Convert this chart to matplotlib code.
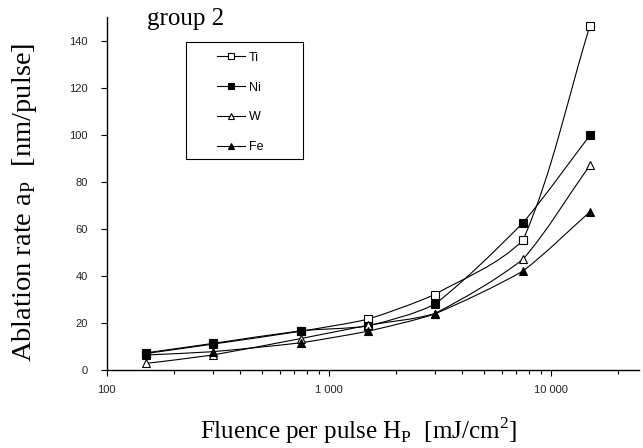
import numpy as np
import matplotlib.pyplot as plt
from matplotlib.path import Path
from matplotlib.patches import PathPatch, Rectangle
from matplotlib.lines import Line2D
from matplotlib.ticker import FixedLocator, LogLocator, NullFormatter

plt.rcParams['mathtext.fontset'] = 'custom'
plt.rcParams['mathtext.rm'] = 'Liberation Serif'

# fluence per pulse [mJ/cm2]
fluence = [150, 300, 750, 1500, 3000, 7500, 15000]

# ablation rate [nm/pulse]
ti = [7.0, 11.0, 16.5, 21.6, 32.1, 55.3, 146.2]
ni = [7.3, 11.3, 16.7, 18.7, 27.9, 62.6, 99.7]
w = [2.8, 6.4, 13.4, 19.0, 24.0, 47.1, 87.0]
fe = [6.4, 7.8, 11.6, 16.5, 23.8, 42.1, 67.2]

series = [
    ("Ti", ti, "s", "white"),
    ("Ni", ni, "s", "black"),
    ("W", w, "^", "white"),
    ("Fe", fe, "^", "black"),
]

xtick_vals = [100, 1000, 10000]
xtick_labels = ["100", "1 000", "10 000"]
ytick_vals = [0, 20, 40, 60, 80, 100, 120, 140]


def unit(v):
    return v / np.hypot(*v)


def smooth_path(ax, xs, ys):
    # each segment is a bezier; end tangents half way between the
    # neighbour direction and the segment's own chord (old plotting program look)
    P = ax.transData.transform(np.column_stack([xs, ys]))
    n = len(P)
    verts = [P[0]]
    codes = [Path.MOVETO]
    for i in range(n - 1):
        p0 = P[max(i - 1, 0)]
        p1 = P[i]
        p2 = P[i + 1]
        p3 = P[min(i + 2, n - 1)]
        chord = unit(p2 - p1)
        t1 = unit(unit(p2 - p0) + chord)
        t2 = unit(unit(p3 - p1) + chord)
        d = np.hypot(*(p2 - p1)) / 3
        verts += [p1 + t1 * d, p2 - t2 * d, p2]
        codes += [Path.CURVE4] * 3
    verts = ax.transData.inverted().transform(np.array(verts))
    return Path(verts, codes)


fig = plt.figure(figsize=(6.43, 4.48), dpi=100)
ax = fig.add_axes([0.166, 0.174, 0.828, 0.788])

ax.set_xscale("log")
ax.set_xlim(100, 25000)
ax.set_ylim(0, 150)

for name, vals, mk, fc in series:
    ax.add_patch(PathPatch(smooth_path(ax, fluence, vals), fill=False,
                           edgecolor="black", lw=0.8, zorder=2))
    ax.plot(fluence, vals, linestyle="none", marker=mk, markersize=6 if mk == "^" else 5.5,
            markerfacecolor=fc, markeredgecolor="black", markeredgewidth=0.8, zorder=3)

ax.xaxis.set_major_locator(FixedLocator(xtick_vals))
ax.set_xticklabels(xtick_labels)
ax.xaxis.set_minor_locator(LogLocator(base=10, subs=np.arange(2, 10)))
ax.xaxis.set_minor_formatter(NullFormatter())
ax.set_yticks(ytick_vals)

for s in ["top", "right"]:
    ax.spines[s].set_visible(False)
for s in ["left", "bottom"]:
    ax.spines[s].set_linewidth(1.0)

ax.tick_params(axis="both", which="major", direction="out", length=4.5, width=0.8,
               labelsize=8, labelcolor="#222222")
ax.tick_params(axis="y", which="major", pad=9)
ax.tick_params(axis="x", which="major", pad=6)
ax.tick_params(axis="x", which="minor", direction="out", length=3, width=0.8)
for lbl in ax.get_xticklabels() + ax.get_yticklabels():
    lbl.set_family("Liberation Sans")

ax.set_xlabel(r"Fluence per pulse H$_\mathregular{P}$  [mJ/cm$^\mathregular{2}$]",
              family="Liberation Serif", fontsize=18)
ax.set_ylabel(r"Ablation rate a$_\mathregular{P}$  [nm/pulse]",
              family="Liberation Serif", fontsize=20.5)
ax.xaxis.set_label_coords(0.472, -0.128)
ax.yaxis.set_label_coords(-0.127, 0.474)

fig.text(186 / 643, 1 - 25 / 448, "group 2", family="Liberation Serif", fontsize=18,
         ha="center", va="baseline")

# legend box
ax.add_patch(Rectangle((0.148, 0.597), 0.22, 0.331, transform=ax.transAxes,
                       fill=False, edgecolor="black", lw=0.8, zorder=4))
handles = [Line2D([], [], color="black", lw=0.8, marker=mk, markersize=5 if mk == "^" else 4.5,
                  markerfacecolor=fc, markeredgecolor="black", markeredgewidth=0.8)
           for name, vals, mk, fc in series]
leg = ax.legend(handles, [s[0] for s in series], loc="upper left",
                bbox_to_anchor=(0.189, 0.93), frameon=False,
                prop={"family": "Liberation Sans", "size": 9},
                handlelength=2.2, handletextpad=0.3, labelspacing=1.43, borderpad=0.3)

fig.savefig("out.png", dpi=100)
